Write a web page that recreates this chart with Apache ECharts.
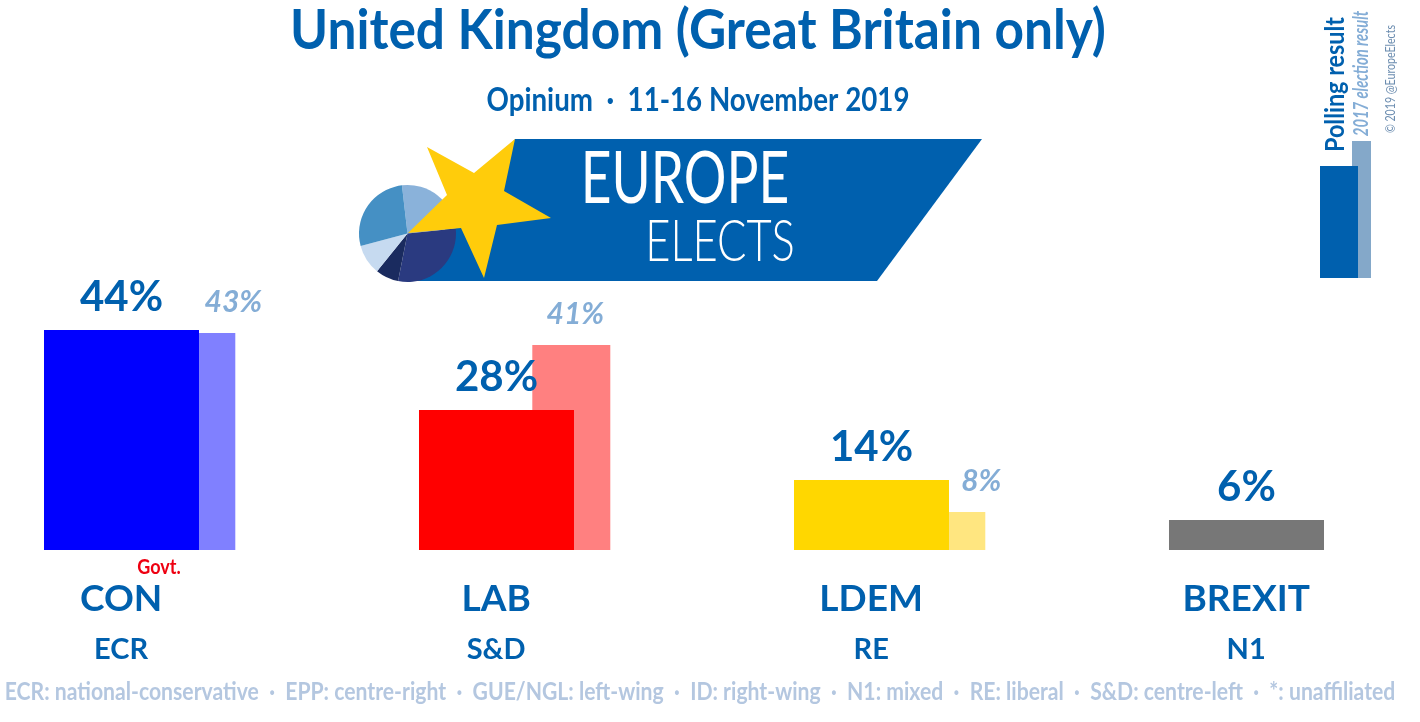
<!DOCTYPE html>
<html lang="en">
<head>
    <meta charset="utf-8">
    <title>United Kingdom poll</title>
    <style type="text/css">
        html, body { margin: 0; padding: 0; background: #ffffff; }
        #main { width: 1420px; height: 722px; }
    </style>
</head>
<body>
<div id="main"></div>
<script src="https://cdn.jsdelivr.net/npm/echarts@6/dist/echarts.min.js" type="text/javascript"></script>
<script type="text/javascript">
    const parties = ["CON", "LAB", "LDEM", "BREXIT"];
    const groups = ["ECR", "S&D", "RE", "N1"];
    const pollValues = [44, 28, 14, 6];
    const electionValues = [43.4, 41.0, 7.6, null];
    const pollColors = ["#0000ff", "#ff0000", "#ffd700", "#777777"];
    const electionColors = ["#8080ff", "#ff8080", "#ffe680", "#bbbbbb"];
    const logoSlices = [90.7, 107.1, 27.7, 36.2, 98.3];
    const logoColors = ["#8ab2da", "#2a3a80", "#1a2b5f", "#c6daf0", "#4590c4"];
    const footerText = "ECR: national-conservative  ·  EPP: centre-right  ·  GUE/NGL: left-wing  ·  ID: right-wing  ·  N1: mixed  ·  RE: liberal  ·  S&D: centre-left  ·  *: unaffiliated";

    const BLUE = "#0060ae";
    const PALE = "#84add6";
    const FONT = "Lato, sans-serif";

    // election labels are not centred on their bars in the original
    const electionLabelDx = [37, 4, 35, 0];

    // the original font is much narrower, so long texts get squeezed
    function squeezedText(text, x, y, font, fill, scaleX, rotated) {
        return {
            type: "text", z: 7, silent: true, x: x, y: y,
            scaleX: scaleX,
            rotation: rotated ? Math.PI / 2 : 0,
            style: { text: text, fill: fill, font: font, align: "center", verticalAlign: "middle" }
        };
    }

    let chart = echarts.init(document.getElementById("main"));

    let option = {
        animation: false,
        backgroundColor: "#ffffff",
        grid: { left: -47.85, top: 50, width: 1500, height: 500, outerBoundsMode: "none" },
        xAxis: {
            type: "category",
            data: parties,
            axisLine: { show: false },
            axisTick: { show: false },
            axisLabel: {
                margin: 25,
                padding: [0, 37, 0, 0],
                interval: 0,
                formatter: function (value, index) {
                    return "{p|" + value + "}\n{g|" + groups[index] + "}";
                },
                rich: {
                    p: { color: BLUE, fontFamily: FONT, fontWeight: "bold", fontSize: 37, lineHeight: 48 },
                    g: { color: BLUE, fontFamily: FONT, fontWeight: "bold", fontSize: 29, lineHeight: 54 }
                }
            }
        },
        yAxis: { type: "value", min: 0, max: 100, show: false },
        series: [
            {
                type: "bar",
                name: "Polling result",
                z: 3,
                barWidth: 155,
                barGap: "-26.9%",
                data: pollValues.map(function (v, i) {
                    return { value: v, itemStyle: { color: pollColors[i] } };
                }),
                label: {
                    show: true,
                    position: "top",
                    distance: 12,
                    color: BLUE,
                    fontFamily: FONT,
                    fontWeight: "bold",
                    fontSize: 42,
                    formatter: function (p) { return Math.round(p.value) + "%"; }
                }
            },
            {
                type: "bar",
                name: "2017 election result",
                z: 2,
                barWidth: 78,
                barGap: "-26.9%",
                data: electionValues.map(function (v, i) {
                    return {
                        value: v,
                        itemStyle: { color: electionColors[i] },
                        label: { offset: [electionLabelDx[i], 0] }
                    };
                }),
                label: {
                    show: true,
                    position: "top",
                    distance: 16,
                    color: PALE,
                    fontFamily: FONT,
                    fontStyle: "italic",
                    fontWeight: "bold",
                    fontSize: 30,
                    formatter: function (p) { return Math.round(p.value) + "%"; }
                }
            },
            {
                type: "pie",
                silent: true,
                z: 5,
                center: [407.5, 233.5],
                radius: [0, 48.5],
                startAngle: 96.6,
                label: { show: false },
                labelLine: { show: false },
                itemStyle: { borderWidth: 0 },
                data: logoSlices.map(function (v, i) {
                    return { value: v, itemStyle: { color: logoColors[i] } };
                })
            }
        ],
        graphic: [
            // logo ribbon, under the pie
            {
                type: "polygon", z: 1, silent: true,
                shape: { points: [[515, 139], [982, 139], [877, 281], [405, 281]] },
                style: { fill: BLUE }
            },
            // logo star, over the pie
            {
                type: "polygon", z: 6, silent: true,
                shape: { points: [[427, 147], [474, 173], [515, 139], [504, 191], [551, 218], [497, 225], [484, 278], [461, 228], [408, 233], [447, 195]] },
                style: { fill: "#ffcc0b" }
            },
            squeezedText("United Kingdom (Great Britain only)", 698, 31, "bold 56px Lato", BLUE, 0.918),
            squeezedText("Opinium  ·  11-16 November 2019", 698, 100, "bold 33px Lato", BLUE, 0.84),
            squeezedText("EUROPE", 685, 180, "400 72px Lato", "#ffffff", 0.74),
            squeezedText("ELECTS", 720, 242, "300 58px Lato", "#ffffff", 0.75),
            // legend key, top right
            {
                type: "rect", z: 1, silent: true,
                shape: { x: 1352, y: 141, width: 19, height: 137 },
                style: { fill: "#84a8c9" }
            },
            {
                type: "rect", z: 2, silent: true,
                shape: { x: 1320, y: 166, width: 38, height: 112 },
                style: { fill: BLUE }
            },
            squeezedText("Polling result", 1336, 84.5, "bold 26px Lato", BLUE, 0.9, true),
            squeezedText("2017 election result", 1362, 73.5, "italic bold 20px Lato", PALE, 0.74, true),
            squeezedText("© 2019 @EuropeElects", 1391, 79, "13px Lato", "#6c8db0", 0.815, true),
            squeezedText("Govt.", 159, 568, "bold 20px Lato", "#ee0011", 0.9),
            squeezedText(footerText, 700, 692, "bold 25px Lato", "#b4c7e0", 0.847)
        ]
    };

    chart.setOption(option);
</script>
</body>
</html>
